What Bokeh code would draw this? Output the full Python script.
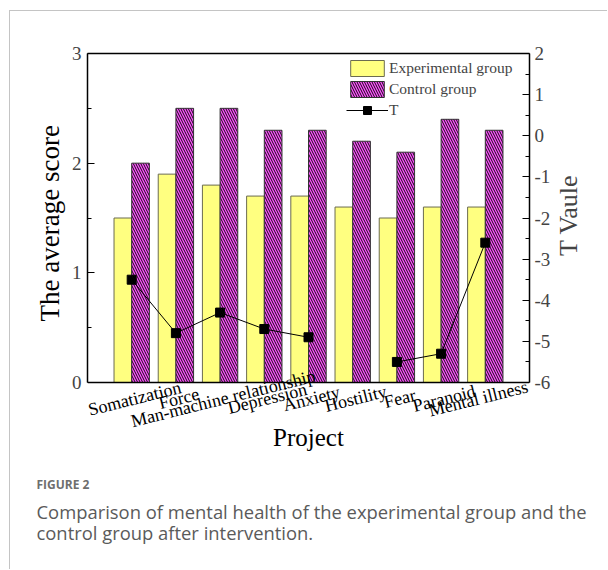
import math
from bokeh.plotting import figure
from bokeh.models import (ColumnDataSource, Range1d, LinearAxis, FixedTicker, Label,
                          Legend, LegendItem, Span, Title)
from bokeh.transform import dodge
from bokeh.embed import file_html
from bokeh.resources import INLINE

# ---------------- data ----------------
categories = ["Somatization", "Force", "Man-machine relationship", "Depression", "Anxiety",
              "Hostility", "Fear", "Paranoid", "Mental illness"]
experimental = [1.5, 1.9, 1.8, 1.7, 1.7, 1.6, 1.5, 1.6, 1.6]
control = [2.0, 2.5, 2.5, 2.3, 2.3, 2.2, 2.1, 2.4, 2.3]
t_values = [-3.5, -4.8, -4.3, -4.7, -4.9, float("nan"), -5.5, -5.3, -2.6]
left_ticks = [0, 1, 2, 3]
right_ticks = [-6, -5, -4, -3, -2, -1, 0, 1, 2]

positions = list(range(1, len(categories) + 1))
src = ColumnDataSource(dict(x=positions, cat=categories, exp=experimental,
                            ctl=control, t=t_values))

SERIF = "Liberation Serif"

# ---------------- layout (page pixels) ----------------
CX, CY = 10, 11              # canvas origin inside the card border
W, H = 608 - CX, 570 - CY
FL, FR, FT, Y0, FB = 87, 529, 53, 382, 458
left_px = (Y0 - FT) / (left_ticks[-1] - left_ticks[0])
y_min = left_ticks[0] - (FB - Y0) / left_px
right_px = (Y0 - FT) / (right_ticks[-1] - right_ticks[0])
t_min = right_ticks[0] - (FB - Y0) / right_px

p = figure(width=W, height=H, output_backend="svg", toolbar_location=None,
           x_axis_location=None,
           x_range=Range1d(0, len(categories) + 1), y_range=Range1d(y_min, left_ticks[-1]),
           min_border_left=FL - CX, min_border_right=608 - FR, min_border_top=FT - CY,
           min_border_bottom=570 - FB,
           styles={"margin-left": "9px", "margin-top": "10px",
                   "border-left": "1px solid #c4c4c4", "border-top": "1px solid #c4c4c4"})
p.extra_y_ranges = {"t": Range1d(t_min, right_ticks[-1])}
p.grid.visible = False
p.outline_line_color = None
p.background_fill_color = "white"
p.border_fill_color = "white"

# bars
r_exp = p.vbar(x=dodge("x", -0.2, range=p.x_range), top="exp", width=0.4, source=src,
               fill_color="#FFFF80", line_color="#6b6b50", line_width=1)
r_ctl = p.vbar(x=dodge("x", 0.2, range=p.x_range), top="ctl", width=0.4, source=src,
               fill_color="#FF50FF", line_color="#333333", line_width=1,
               hatch_pattern="\\", hatch_color="#111111", hatch_scale=5, hatch_weight=1.0)

# T line
r_tl = p.line(x="x", y="t", source=src, y_range_name="t", line_color="black", line_width=1)
r_tm = p.scatter(x="x", y="t", source=src, y_range_name="t", marker="square", size=9,
                 fill_color="black", line_color="black")

# x axis line at zero
p.add_layout(Span(location=0, dimension="width", line_color="black", line_width=1.5))

# top frame line
top = LinearAxis(ticker=FixedTicker(ticks=[]))
top.major_tick_in = 0
top.major_tick_out = 0
top.minor_tick_in = 0
top.minor_tick_out = 0
top.axis_line_width = 1.3
p.add_layout(top, "above")

ya = p.yaxis[0]
ya.bounds = (left_ticks[0], left_ticks[-1])
ya.ticker = FixedTicker(ticks=left_ticks, minor_ticks=[0.5, 1.5, 2.5])
ya.major_tick_in = 7
ya.major_tick_out = 0
ya.minor_tick_in = 4
ya.minor_tick_out = 0
ya.axis_line_width = 1.5
ya.major_label_text_font = SERIF
ya.major_label_text_font_size = "19px"
ya.major_label_standoff = 6

# left axis title (reads bottom to top, placed along the 0..3 part of the axis)
p.add_layout(Title(text="The average score", align="left", offset=FB - 321,
                   vertical_align="middle", standoff=5, text_font=SERIF,
                   text_font_size="27px", text_font_style="normal", text_color="black"),
             "left")

ra = LinearAxis(y_range_name="t", bounds=(right_ticks[0], right_ticks[-1]),
                ticker=FixedTicker(ticks=right_ticks,
                                   minor_ticks=[v + 0.5 for v in right_ticks[:-1]]))
ra.major_label_overrides = {v: str(v) for v in right_ticks}
ra.major_tick_in = 7
ra.major_tick_out = 0
ra.minor_tick_in = 4
ra.minor_tick_out = 0
ra.axis_line_width = 1.5
ra.major_label_text_font = SERIF
ra.major_label_text_font_size = "19px"
ra.major_label_standoff = 5
ra.axis_label = "T Vaule"
ra.axis_label_text_font = SERIF
ra.axis_label_text_font_style = "normal"
ra.axis_label_text_font_size = "26px"
ra.axis_label_standoff = 15
try:
    ra.axis_label_orientation = math.pi / 2
except Exception:
    pass
p.add_layout(ra, "right")

# rotated category labels (inside the enlarged frame)
for pos, cat in zip(positions, categories):
    off = 3 if pos < len(categories) else -7
    p.add_layout(Label(x=pos, y=FB - 398, x_units="data", y_units="screen", text=cat,
                       x_offset=off, angle=14, angle_units="deg", text_align="center",
                       text_baseline="middle", text_font=SERIF,
                       text_font_size="18px", text_color="black"))

# x axis title
p.add_layout(Label(x=(len(categories) + 1) / 2, y=FB - 437, x_units="data", y_units="screen",
                   text="Project", text_align="center", text_baseline="middle",
                   text_font=SERIF, text_font_size="25px", text_color="black"))

# legend
legend = Legend(items=[LegendItem(label="Experimental group", renderers=[r_exp]),
                       LegendItem(label="Control group", renderers=[r_ctl]),
                       LegendItem(label="T", renderers=[r_tl, r_tm])],
                location=(259, 338), orientation="vertical", margin=0, padding=0,
                spacing=1, glyph_width=42, glyph_height=20, label_height=20,
                label_standoff=1, label_text_font=SERIF, label_text_font_size="15.5px",
                background_fill_alpha=0, border_line_alpha=0)
p.add_layout(legend)

# caption
p.add_layout(Title(text="FIGURE 2", align="left", offset=36 - FL, standoff=31,
                   text_font="Open Sans", text_font_size="12px", text_font_style="bold",
                   text_color="#6e6e6e"), "below")
p.add_layout(Title(text="Comparison of mental health of the experimental group and the",
                   align="left", offset=36 - FL, standoff=-23, text_font="Open Sans",
                   text_font_size="18.4px", text_font_style="normal",
                   text_color="#5a5a5a"), "below")
p.add_layout(Title(text="control group after intervention.",
                   align="left", offset=36 - FL, standoff=10, text_font="Open Sans",
                   text_font_size="18.4px", text_font_style="normal",
                   text_color="#5a5a5a"), "below")

open("out.html", "w").write(file_html(p, INLINE))
